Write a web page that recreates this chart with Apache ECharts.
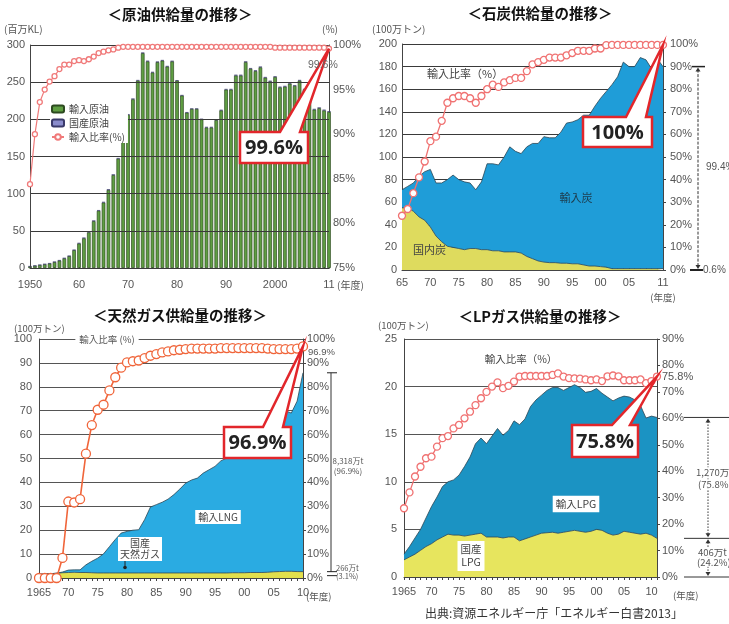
<!DOCTYPE html>
<html><head><meta charset="utf-8">
<script src="https://cdn.jsdelivr.net/npm/echarts@6/dist/echarts.min.js"></script>
<style>html,body{margin:0;padding:0;background:#fff}#c{width:729px;height:624px}</style>
</head><body><div id="c"></div>
<script>
function years(a,b){const r=[];for(let y=a;y<=b;y++)r.push(String(y));return r;}

// ---------- Crude oil (百万KL) ----------
const oilYears = years(1950,2011);
const oilImport = [2,3,4,5,6,8,10,13,16,24, 33,40,48,63,77,88,105,125,147,175,
  206,227,252,289,278,263,277,279,271,278, 252,232,209,214,214,200,189,189,199,212,
  240,240,259,259,277,268,265,270,256,251, 257,243,244,248,245,252,240,237,213,215, 212,210];
const oilDomestic = [0.3,0.3,0.3,0.3,0.3,0.4,0.4,0.4,0.4,0.5, 0.6,0.8,0.9,0.9,0.8,0.9,0.9,0.9,0.9,0.9,
  0.9,0.9,0.8,0.8,0.7,0.7,0.6,0.6,0.6,0.5, 0.5,0.5,0.5,0.5,0.5,0.6,0.7,0.7,0.7,0.7,
  0.7,0.8,0.9,0.9,0.9,0.9,0.9,0.9,0.9,0.8, 0.8,0.8,0.9,0.9,0.9,0.9,1.0,1.0,1.0,0.9, 0.9,0.9];
const oilRatio = [84.4,90.0,93.6,95.0,95.9,96.5,97.3,97.8,97.8,98.2, 98.3,98.2,98.4,98.7,99.1,99.25,99.4,99.5,99.7,99.8,
  99.8,99.8,99.8,99.8,99.8,99.8,99.8,99.8,99.8,99.8, 99.8,99.8,99.8,99.8,99.8,99.8,99.8,99.8,99.8,99.8,
  99.8,99.8,99.8,99.8,99.8,99.8,99.8,99.8,99.8,99.8, 99.7,99.7,99.7,99.7,99.7,99.7,99.7,99.7,99.7,99.7, 99.7,99.6];
const oilLabelYears = ['1950','1960','1970','1980','1990','2000','2011'];
const oilLabelTexts = ['1950','60','70','80','90','2000','11'];

// ---------- Coal (100万トン) ----------
const coalYears = years(1965,2011);
const coalDomestic = [55,55,52,47,44,38,30,25,21,20, 19,18,19,19,18,18,17,17,16,16,
  16,15,12,10,8,7,6.5,6.5,6,6, 5.5,5.5,4.5,3.5,3.5,3,2.5,1.2,1.2,1.2, 1.2,1.2,1.2,1.2,1.2,1.2,1.2];
const coalImport = [16,19,25,36,43,51,47,52,59,64, 61,60,58,52,60,76,77,76,84,93,
  89,88,97,102,104,111,110.5,110.5,116,124, 125.5,127.5,132.5,133.5,141.5,149,155.5,162.8,169.8,182.8,
  178.8,178.8,186.8,184.8,176.8,185.8,178.8];
const coalRatio = [24,27,34,41,48,57,59,66,74,76, 77,77,76,74,77,80,82,81,83,84,
  85,85,88,91,92,93,94,94,94,95, 96,97,97,97,98,98,99.5,99.6,99.6,99.6, 99.6,99.6,99.6,99.6,99.6,99.6,99.6];
const coalLabelYears = ['1965','1970','1975','1980','1985','1990','1995','2000','2005','2011'];
const coalLabelTexts = ['65','70','75','80','85','90','95','00','05','11'];

// ---------- Natural gas (100万トン) ----------
const gasYears = years(1965,2010);
const gasDomestic = [1.6,1.7,1.8,2.0,2.2,2.3,2.4,2.3,2.3,2.2, 2.1,2.1,2.1,2.1,2.1,2.1,2.1,2.1,2.1,2.1,
  2.1,2.1,2.1,2.1,2.1,2.1,2.1,2.1,2.1,2.1, 2.1,2.1,2.1,2.2,2.2,2.2,2.3,2.3,2.3,2.4, 2.6,2.7,2.8,2.8,2.7,2.66];
const gasLNG = [0,0,0,0,0.3,1.0,1.0,1.1,3.2,4.8, 6.2,8.0,11.0,14.0,16.7,17.4,17.9,18.1,22.3,27.6,
  28.6,29.6,30.9,32.8,35.1,37.6,38.9,39.7,41.8,43.2, 44.6,46.9,48.1,49.0,51.0,52.0,53.0,54.0,56.0,57.0,
  62.0,66.8,67.2,66.2,71.3,83.2];
const gasRatio = [0,0,0,0,8.4,32,31.6,33,52,64, 70.4,72.5,78.5,84,88,90.2,90.7,91,92,93,
  93.7,94.4,94.8,95.3,95.5,95.8,96,96,96,96, 96,96.2,96.2,96.2,96.2,96.2,96.2,96.2,96.2,96, 95.8,95.8,95.8,95.8,96,96.9];
const gasLabelYears = ['1965','1970','1975','1980','1985','1990','1995','2000','2005','2010'];
const gasLabelTexts = ['1965','70','75','80','85','90','95','00','05','10'];

// ---------- LP gas (100万トン) ----------
const lpgYears = years(1965,2011);
const lpgDomestic = [1.8,2.1,2.4,2.8,3.2,3.5,3.9,4.2,4.5,4.4, 4.4,4.3,4.4,4.5,4.6,4.2,4.2,4.2,4.1,4.2,
  4.2,3.8,4.0,4.2,4.4,4.6,4.65,4.7,4.6,4.7, 4.8,4.9,4.8,4.7,4.8,5.0,4.9,4.6,4.4,4.5, 4.8,4.7,4.6,4.5,4.6,4.4,4.06];
const lpgImport = [0.6,1.1,1.7,2.2,3.0,3.9,4.5,5.3,5.5,5.8, 6.3,7.3,8.2,9.5,10.0,9.8,10.6,11.4,10.8,11.2,
  12.2,12.2,12.6,13.7,14.2,14.5,14.95,15.2,15.3,14.9, 15.1,15.3,15.1,14.7,14.7,14.8,14.4,14.3,14.1,14.3,
  14.2,14.2,14.0,13.5,12.1,12.5,12.7];
const lpgRatio = [26,32,38,41.7,44.9,45.5,49.3,52.5,53.3,56.2, 57.5,60,62.5,65,67.6,70,72,73.6,71.4,72.3,
  73.9,75.8,76,76,76,76,76,76.4,77,75.8, 75.2,75.1,75,74.7,74.4,74.7,74.1,75.9,76.2,75.9, 74.4,74.4,74.4,74.7,73.3,74.1,75.8];
const lpgLabelYears = gasLabelYears;
const lpgLabelTexts = gasLabelTexts;

// ---------- helpers ----------
const NUM = "'Liberation Sans','Noto Sans CJK JP',sans-serif";
const JP = "'Noto Sans CJK JP',sans-serif";
const AX = '#444';

function xCat(grid, data, labYears, labTexts, tickFn, inside, margin){
  return {type:'category', gridIndex:grid, data:data, boundaryGap:false,
    axisLine:{lineStyle:{color:AX,width:1}},
    axisTick:{show:true, inside:inside, length:3, interval:tickFn, lineStyle:{color:AX}},
    axisLabel:{interval:(i,v)=>labYears.includes(v), formatter:v=>labTexts[labYears.indexOf(v)],
      color:'#555', fontFamily:NUM, fontSize:11, margin:margin},
    splitLine:{show:false}};
}
function yLeft(grid, max, interval, margin, gridColor, z){
  return {type:'value', gridIndex:grid, min:0, max:max, interval:interval, position:'left', z:z||0,
    axisLine:{show:true, lineStyle:{color:AX}}, axisTick:{show:false},
    axisLabel:{color:'#555', fontFamily:NUM, fontSize:11, margin:margin},
    splitLine:{show:true, lineStyle:{color:gridColor, width:1}}};
}
function yRight(grid, min, max, interval, margin, tick){
  return {type:'value', gridIndex:grid, min:min, max:max, interval:interval, position:'right',
    axisLine:{show:true, lineStyle:{color:AX}}, axisTick:{show:tick, length:3, lineStyle:{color:AX}},
    axisLabel:{color:'#555', fontFamily:NUM, fontSize:11, margin:margin, formatter:'{value}%'},
    splitLine:{show:false}};
}
function area(name, x, y, stack, data, color){
  return {name:name, type:'line', xAxisIndex:x, yAxisIndex:y, stack:stack, data:data, symbol:'none',
    lineStyle:{color:'#2c4654', width:0.8}, areaStyle:{color:color, opacity:1}, z:2, silent:true};
}
function ratio(name, x, y, data, color, size, lw){
  return {name:name, type:'line', xAxisIndex:x, yAxisIndex:y, data:data, symbol:'circle', symbolSize:size,
    showAllSymbol:true,
    lineStyle:{color:color, width:lw}, itemStyle:{color:'#fff', borderColor:color, borderWidth:1.3}, z:10, silent:true};
}

const chart = echarts.init(document.getElementById('c'));
chart.setOption({
  animation:false,
  backgroundColor:'#fff',
  grid:[
    {left:30, top:45, width:299, height:223},
    {left:402, top:44, width:261, height:226},
    {left:39, top:339, width:264, height:239},
    {left:404, top:339, width:253, height:238}
  ],
  legend:{data:['輸入原油','国産原油','輸入比率(%)'], orient:'vertical', left:50, top:103,
    itemWidth:12, itemHeight:7, itemGap:4, backgroundColor:'#fff', padding:[1,3,1,1], z:20,
    textStyle:{fontSize:10, color:'#444', fontFamily:JP}},
  xAxis:[
    xCat(0, oilYears, oilLabelYears, oilLabelTexts, (i)=>i%5===0, true, 11),
    xCat(1, coalYears, coalLabelYears, coalLabelTexts, 0, true, 7),
    xCat(2, gasYears, gasLabelYears, gasLabelTexts, 0, false, 9),
    xCat(3, lpgYears, lpgLabelYears, lpgLabelTexts, 0, false, 9)
  ],
  yAxis:[
    yLeft(0, 300, 50, 5, '#3a3a3a', 5),
    yRight(0, 75, 100, 5, 4, false),
    yLeft(1, 200, 20, 5, '#3a3a3a'),
    yRight(1, 0, 100, 10, 7, true),
    yLeft(2, 100, 10, 7, '#555'),
    yRight(2, 0, 100, 10, 4, true),
    yLeft(3, 25, 5, 7, '#555'),
    yRight(3, 0, 90, 10, 5, true)
  ],
  series:[
    {name:'輸入原油', type:'bar', xAxisIndex:0, yAxisIndex:0, stack:'oil', data:oilImport, barWidth:3.6,
      itemStyle:{color:'#5f9e42', borderColor:'#2d4a20', borderWidth:0.7}, z:2, silent:true},
    {name:'国産原油', type:'bar', xAxisIndex:0, yAxisIndex:0, stack:'oil', data:oilDomestic, barWidth:3.6,
      itemStyle:{color:'#8a8ccc', borderColor:'#3a3a6a', borderWidth:0.5}, z:2, silent:true},
    ratio('輸入比率(%)', 0, 1, oilRatio, '#f07a7a', 5, 1.2),

    area('国内炭', 1, 2, 'coal', coalDomestic, '#dedb5e'),
    area('輸入炭', 1, 2, 'coal', coalImport, '#1f9dd8'),
    ratio('石炭輸入比率', 1, 3, coalRatio, '#f07272', 7, 1.3),

    area('国産天然ガス', 2, 4, 'gas', gasDomestic, '#e2df4c'),
    area('輸入LNG', 2, 4, 'gas', gasLNG, '#2aabe2'),
    ratio('天然ガス輸入比率', 2, 5, gasRatio, '#f0653a', 9, 1.6),

    area('国産LPG', 3, 6, 'lpg', lpgDomestic, '#e7e55e'),
    area('輸入LPG', 3, 6, 'lpg', lpgImport, '#1b93c3'),
    ratio('LPG輸入比率', 3, 7, lpgRatio, '#f07272', 7, 1.3)
  ]
});

// ---------- annotations ----------
const RED = '#e2262b';
function T(x, y, text, o){
  return {type:'text', x:x, y:y, z:100, silent:true,
    style:Object.assign({text:text, fill:'#444', fontSize:11, fontFamily:JP, align:'left', verticalAlign:'middle'}, o||{})};
}
function L(x1,y1,x2,y2,o){
  return {type:'line', z:90, silent:true, shape:{x1:x1,y1:y1,x2:x2,y2:y2},
    style:Object.assign({stroke:'#333', lineWidth:1}, o||{})};
}
function tri(x, y, dir){
  const d = dir==='up' ? -1 : 1;
  return {type:'polygon', z:91, silent:true, shape:{points:[[x-2.5,y-d*4],[x+2.5,y-d*4],[x,y]]}, style:{fill:'#333'}};
}
function callout(x0,y0,x1,y1,a,b,tip,text){
  return [
    {type:'polygon', z:95, silent:true,
      shape:{points:[[x0,y0],[a,y0],tip,[b,y0],[x1,y0],[x1,y1],[x0,y1]]},
      style:{fill:'#fff', stroke:RED, lineWidth:2.5, lineJoin:'miter'}},
    {type:'text', z:96, silent:true, x:(x0+x1)/2, y:(y0+y1)/2+1,
      style:{text:text, fill:'#222', fontSize:20, fontWeight:'bold', fontFamily:"'Open Sans','DejaVu Sans',sans-serif", align:'center', verticalAlign:'middle'}}
  ];
}
const px = (si, i, v) => chart.convertToPixel({seriesIndex:si}, [i, v]);

const tipOil = px(2, oilYears.length-1, oilRatio[oilRatio.length-1]);
const tipCoal = px(5, coalYears.length-1, coalRatio[coalRatio.length-1]);
const tipGas = px(8, gasYears.length-1, gasRatio[gasRatio.length-1]);
const tipLpg = px(11, lpgYears.length-1, lpgRatio[lpgRatio.length-1]);

const coalTopY = px(4, coalYears.length-1, coalDomestic[coalDomestic.length-1]+coalImport[coalImport.length-1])[1];
const coalZeroY = px(3, 0, 0)[1];
const gasTopY = px(7, gasYears.length-1, gasDomestic[gasDomestic.length-1]+gasLNG[gasLNG.length-1])[1];
const gasDomY = px(6, gasYears.length-1, gasDomestic[gasDomestic.length-1])[1];
const lpgTopY = px(10, lpgYears.length-1, lpgDomestic[lpgDomestic.length-1]+lpgImport[lpgImport.length-1])[1];
const lpgDomY = px(9, lpgYears.length-1, lpgDomestic[lpgDomestic.length-1])[1];
const lpgZeroY = px(9, 0, 0)[1];

const title = (x,y,t)=>T(x,y,t,{align:'center', fontSize:14.5, fontWeight:'bold', fill:'#111'});
const g = [
  title(180, 14, '＜原油供給量の推移＞'),
  title(540, 13, '＜石炭供給量の推移＞'),
  title(180, 315, '＜天然ガス供給量の推移＞'),
  title(540, 316, '＜LPガス供給量の推移＞'),

  T(4, 29, '(百万KL)', {fontSize:10, fill:'#555'}),
  T(322, 29, '(%)', {fontSize:10, fill:'#555'}),
  T(337, 285, '(年度)', {fontSize:10, fill:'#555'}),
  T(372, 29, '(100万トン)', {fontSize:10, fill:'#555'}),
  T(663, 297, '(年度)', {fontSize:9.5, fill:'#555', align:'center'}),
  T(14, 328, '(100万トン)', {fontSize:9.5, fill:'#555'}),
  T(306, 596, '(年度)', {fontSize:9.5, fill:'#555'}),
  T(378, 325, '(100万トン)', {fontSize:9.5, fill:'#555'}),
  T(673, 595, '(年度)', {fontSize:9.5, fill:'#555'}),

  T(308, 65, '99.6%', {fontSize:10.5, fill:'#666', fontFamily:NUM}),
  T(308, 352, '96.9%', {fontSize:9.5, fill:'#555', fontFamily:NUM}),
  T(662, 377, '75.8%', {fontSize:11, fill:'#555', fontFamily:NUM}),

  T(427, 74, '輸入比率（%）', {fontSize:11, fill:'#444'}),
  T(576, 198, '輸入炭', {fontSize:11, fill:'#1d3a4a', align:'center'}),
  T(413, 250, '国内炭', {fontSize:11, fill:'#444'}),

  T(107, 339, '輸入比率 (%)', {fontSize:9.5, fill:'#555', align:'center', backgroundColor:'#fff', padding:[0,4]}),
  T(218, 517, '輸入LNG', {fontSize:10, fill:'#444', align:'center', backgroundColor:'#fff', padding:[2,3]}),
  T(140, 549, '国産\n天然ガス', {fontSize:10, fill:'#444', align:'center', backgroundColor:'#fff', padding:[1,2], lineHeight:11}),
  L(125, 559, 125, 566, {stroke:'#222'}),
  {type:'circle', z:92, silent:true, shape:{cx:125, cy:567.5, r:1.8}, style:{fill:'#222'}},

  T(521, 359, '輸入比率（%）', {fontSize:10.5, fill:'#444', align:'center'}),
  T(576, 504, '輸入LPG', {fontSize:10.5, fill:'#444', align:'center', backgroundColor:'#fff', padding:[3,3]}),
  T(471, 556, '国産\nLPG', {fontSize:10.5, fill:'#444', align:'center', backgroundColor:'#fff', padding:[2,3], lineHeight:13}),

  T(554, 613, '出典:資源エネルギー庁「エネルギー白書2013」', {fontSize:12, fill:'#333', align:'center'}),

  L(692, coalTopY, 705, coalTopY, {stroke:'#222', lineWidth:1.5}),
  L(698, coalTopY+3, 698, coalZeroY-3, {stroke:'#333', lineDash:[3,1.5]}),
  tri(698, coalTopY+1, 'up'), tri(698, coalZeroY-1, 'down'),
  L(690, coalZeroY, 703, coalZeroY, {stroke:'#222', lineWidth:2}),
  T(706, 167, '99.4%', {fontSize:10, fill:'#555', fontFamily:NUM}),
  T(703, coalZeroY, '0.6%', {fontSize:10, fill:'#555', fontFamily:NUM}),

  L(327, gasTopY, 337, gasTopY, {stroke:'#222'}),
  L(331, gasTopY, 331, gasDomY, {stroke:'#333'}),
  L(327, gasDomY, 337, gasDomY, {stroke:'#222'}),
  L(327, gasDomY+4, 337, gasDomY+4, {stroke:'#222'}),
  T(348, 466, '8,318万t\n(96.9%)', {fontSize:8, fill:'#555', align:'center', lineHeight:10}),
  T(336, gasDomY+1, '266万t\n(3.1%)', {fontSize:7.5, fill:'#555', lineHeight:8}),

  L(684, lpgTopY, 729, lpgTopY, {stroke:'#333'}),
  L(684, lpgDomY, 729, lpgDomY, {stroke:'#333'}),
  L(684, lpgZeroY, 729, lpgZeroY, {stroke:'#333'}),
  L(708, lpgTopY+4, 708, lpgDomY-4, {stroke:'#333', lineDash:[1.5,1.5]}),
  tri(708, lpgTopY+1, 'up'), tri(708, lpgDomY-1, 'down'),
  L(708, lpgDomY+4, 708, lpgZeroY-4, {stroke:'#333', lineDash:[1.5,1.5]}),
  tri(708, lpgDomY+1, 'up'), tri(708, lpgZeroY-1, 'down'),
  T(696, 472, '1,270万t', {fontSize:9.5, fill:'#555', backgroundColor:'#fff'}),
  T(698, 484, '(75.8%)', {fontSize:9.5, fill:'#555', backgroundColor:'#fff'}),
  T(698, 552, '406万t', {fontSize:9.5, fill:'#555', backgroundColor:'#fff'}),
  T(697, 562, '(24.2%)', {fontSize:9.5, fill:'#555', backgroundColor:'#fff'})
]
.concat(callout(240,132,308,163,280,300,tipOil,'99.6%'))
.concat(callout(583,117,652,147,626,646,tipCoal,'100%'))
.concat(callout(224,427,291,458,263,283,tipGas,'96.9%'))
.concat(callout(572,425,638,457,612,630,tipLpg,'75.8%'));

chart.setOption({graphic:{elements:g}});
</script>
</body></html>
